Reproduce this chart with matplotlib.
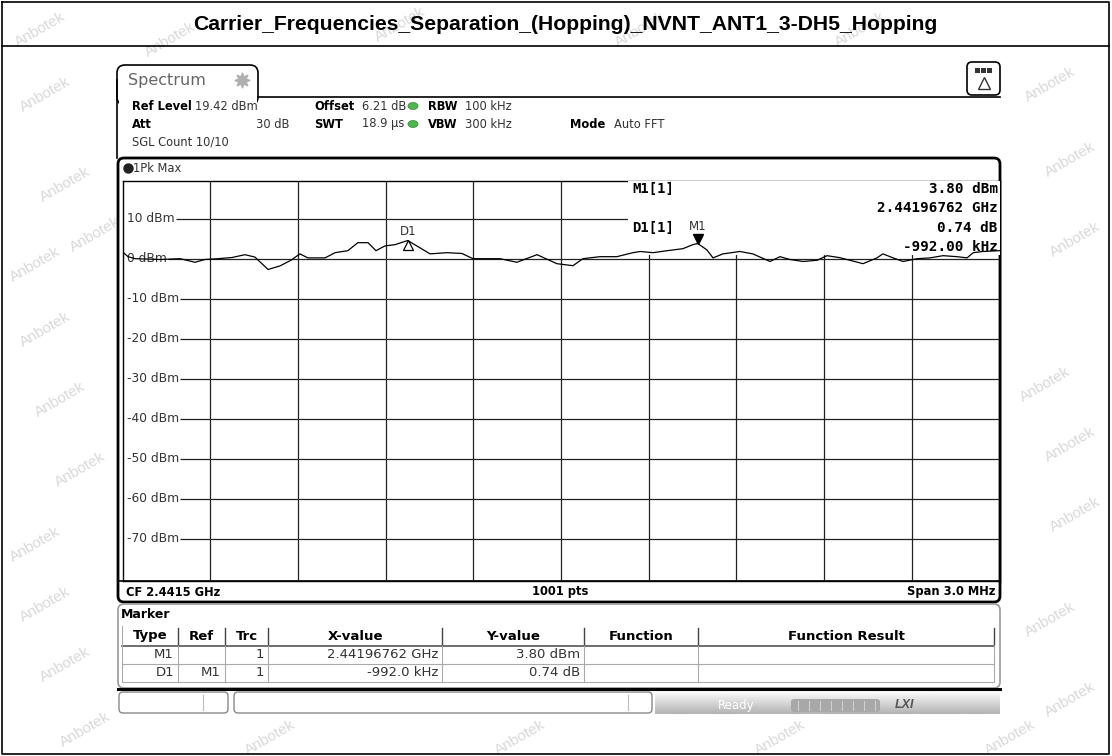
import numpy as np
import matplotlib.pyplot as plt
from matplotlib.patches import FancyBboxPatch, Rectangle, Ellipse

# trace: frequency offset from 2440 MHz (MHz) and level (dBm)
freq_off = [0.000, 0.019, 0.043, 0.128, 0.197, 0.248, 0.282, 0.327, 0.375, 0.419,
            0.453, 0.498, 0.539, 0.576, 0.607, 0.634, 0.693, 0.727, 0.771, 0.805,
            0.840, 0.867, 0.898, 0.932, 0.9756, 1.018, 1.052, 1.110, 1.161, 1.199,
            1.291, 1.349, 1.418, 1.486, 1.541, 1.575, 1.633, 1.691, 1.746, 1.771,
            1.815, 1.863, 1.917, 1.951, 1.9676, 1.999, 2.020, 2.054, 2.112, 2.156,
            2.215, 2.249, 2.283, 2.328, 2.376, 2.410, 2.454, 2.533, 2.581, 2.601,
            2.636, 2.670, 2.718, 2.762, 2.807, 2.855, 2.889, 2.910, 2.944, 3.000]
level = [1.7, 0.5, 0.0, -0.2, 0.0, -0.9, -0.2, 0.0, 0.3, 1.0,
         0.4, -2.7, -1.8, -0.4, 1.2, 0.2, 0.2, 1.5, 2.0, 4.0,
         4.0, 2.0, 3.2, 3.5, 4.54, 2.7, 1.2, 1.5, 1.3, 0.0,
         0.0, -0.9, 1.0, -1.25, -1.75, 0.0, 0.5, 0.5, 1.5, 1.8,
         1.5, 2.0, 2.5, 3.5, 3.8, 2.2, 0.2, 1.2, 1.8, 1.2,
         -0.7, 0.5, -0.2, -0.7, -0.4, 0.75, 0.25, -1.25, 0.2, 1.2,
         0.2, -0.7, 0.0, 0.2, 0.75, 0.5, 0.2, 1.5, 1.8, 2.0]

f_start = 2440.0
span = 3.0
ref_level = 19.42
y_ticks = [10, 0, -10, -20, -30, -40, -50, -60, -70]

m1_f, m1_lvl = 2441.96762, 3.80
d1_f, d1_lvl = 2440.97562, 4.54

title = "Carrier_Frequencies_Separation_(Hopping)_NVNT_ANT1_3-DH5_Hopping"

table_cols = ["Type", "Ref", "Trc", "X-value", "Y-value", "Function", "Function Result"]
table_rows = [["M1", "", "1", "2.44196762 GHz", "3.80 dBm", "", ""],
              ["D1", "M1", "1", "-992.0 kHz", "0.74 dB", "", ""]]

W, H = 1112, 756
fig = plt.figure(figsize=(W / 100, H / 100), dpi=100)
ov = fig.add_axes([0, 0, 1, 1])
ov.set_xlim(0, W)
ov.set_ylim(H, 0)
ov.axis("off")

narrow = ["Liberation Sans Narrow", "DejaVu Sans"]
scr = "DejaVu Sans"

# watermarks
wm = [(45, 95), (65, 185), (95, 235), (35, 265), (45, 330), (60, 400), (80, 470),
      (35, 545), (45, 605), (65, 665), (85, 730), (170, 40), (400, 25), (640, 30),
      (860, 30), (1050, 85), (1070, 160), (1075, 240), (1045, 385), (1070, 445),
      (1075, 515), (1050, 620), (1070, 700), (270, 738), (520, 738), (780, 738),
      (1010, 738), (40, 30)]
for x, y in wm:
    ov.text(x, y, "Anbotek", rotation=30, fontsize=11, color="#d9d9d9",
            ha="center", va="center", family="Liberation Sans", zorder=0)

# outer frame + title
ov.plot([2, 1109, 1109, 2, 2], [2, 2, 754, 754, 2], color="black", lw=1.2, zorder=1)
ov.plot([2, 1109], [46, 46], color="black", lw=1.2, zorder=1)
ov.text(565, 25, title, ha="center", va="center", fontsize=15.2, fontweight="bold",
        family="Liberation Sans", zorder=5)

# Spectrum tab
ov.add_patch(FancyBboxPatch((117, 65), 141, 40, boxstyle="round,pad=0,rounding_size=8",
                            fc="white", ec="black", lw=1.2, zorder=2))
ov.add_patch(Rectangle((118.5, 97.5), 138, 10, fc="white", ec="none", zorder=2))
ov.plot([258, 1000], [97, 97], color="black", lw=1.2, zorder=2)
ov.plot([117, 117], [80, 158], color="black", lw=1.2, zorder=2)
ov.text(128, 81, "Spectrum", fontsize=11.5, color="#666666", va="center", family=scr, zorder=3)
ov.plot(242, 80, marker=(8, 1, 0), ms=11, color="#b0b0b0", zorder=3)

# icon top right
ov.add_patch(FancyBboxPatch((967, 62), 33, 33, boxstyle="round,pad=0,rounding_size=5",
                            fc="white", ec="black", lw=1.2, zorder=2))
for k in range(3):
    ov.add_patch(Rectangle((975 + k * 6, 68), 5, 5, fc="#333333", ec="none", zorder=3))
ov.plot(983.5, 83, marker="^", ms=8, mfc="white", mec="#333333", mew=1, zorder=3)

# header texts
hdr_fs = 8.3
row_y = [106, 124, 142]
ov.text(132, row_y[0], "Ref Level", fontsize=hdr_fs, fontweight="bold", va="center", family=scr)
ov.text(195, row_y[0], "19.42 dBm", fontsize=hdr_fs, va="center", family=scr, color="#333333")
ov.text(314, row_y[0], "Offset", fontsize=hdr_fs, fontweight="bold", va="center", family=scr)
ov.text(362, row_y[0], "6.21 dB", fontsize=hdr_fs, va="center", family=scr, color="#333333")
ov.text(428, row_y[0], "RBW", fontsize=hdr_fs, fontweight="bold", va="center", family=scr)
ov.text(465, row_y[0], "100 kHz", fontsize=hdr_fs, va="center", family=scr, color="#333333")
ov.text(132, row_y[1], "Att", fontsize=hdr_fs, fontweight="bold", va="center", family=scr)
ov.text(290, row_y[1], "30 dB", fontsize=hdr_fs, va="center", ha="right", family=scr, color="#333333")
ov.text(314, row_y[1], "SWT", fontsize=hdr_fs, fontweight="bold", va="center", family=scr)
ov.text(362, row_y[1], "18.9 µs", fontsize=hdr_fs, va="center", family=scr, color="#333333")
ov.text(428, row_y[1], "VBW", fontsize=hdr_fs, fontweight="bold", va="center", family=scr)
ov.text(465, row_y[1], "300 kHz", fontsize=hdr_fs, va="center", family=scr, color="#333333")
ov.text(570, row_y[1], "Mode", fontsize=hdr_fs, fontweight="bold", va="center", family=scr)
ov.text(614, row_y[1], "Auto FFT", fontsize=hdr_fs, va="center", family=scr, color="#333333")
ov.text(132, row_y[2], "SGL Count 10/10", fontsize=hdr_fs, va="center", family=scr, color="#333333")
for yy in row_y[:2]:
    ov.add_patch(Ellipse((413, yy), 10, 7, fc="#4cb84c", ec="#2e8b2e", lw=0.5, zorder=3))

# plot frame
ov.add_patch(FancyBboxPatch((118, 158), 882, 444, boxstyle="round,pad=0,rounding_size=6",
                            fc="white", ec="black", lw=2, zorder=1))
ov.plot(128, 168, "o", ms=6.5, color="#222222", zorder=3)
ov.text(133, 168, "1Pk Max", fontsize=8.3, va="center", family=scr, color="#333333", zorder=3)
ov.plot([118, 1000], [580.5, 580.5], color="black", lw=1.2, zorder=2)
ov.text(126, 592, "CF 2.4415 GHz", fontsize=8.3, fontweight="bold", va="center", family=scr, zorder=3)
ov.text(560, 592, "1001 pts", fontsize=8.3, fontweight="bold", va="center", ha="center", family=scr, zorder=3)
ov.text(995, 592, "Span 3.0 MHz", fontsize=8.3, fontweight="bold", va="center", ha="right", family=scr, zorder=3)

# marker table panel
ov.add_patch(FancyBboxPatch((118, 604), 882, 84, boxstyle="round,pad=0,rounding_size=6",
                            fc="white", ec="#999999", lw=1.2, zorder=1))
ov.plot([118, 1000], [688.5, 688.5], color="black", lw=2.2, zorder=2)
ov.text(121, 615, "Marker", fontsize=9, fontweight="bold", va="center", family=narrow, zorder=3)
col_x = [122, 178, 225, 268, 442, 584, 698, 994]
row_top = [626, 646, 664, 682]
ov.plot([122, 994], [645.5, 645.5], color="#555555", lw=1.2, zorder=2)
for yy in row_top[2:]:
    ov.plot([122, 994], [yy, yy], color="#aaaaaa", lw=0.8, zorder=2)
ov.plot([122, 122], [626, 682], color="#aaaaaa", lw=0.8, zorder=2)
for cx in col_x[1:]:
    ov.plot([cx, cx], [628, 644], color="#444444", lw=1, zorder=2)
    ov.plot([cx, cx], [646, 682], color="#aaaaaa", lw=0.8, zorder=2)
for i, name in enumerate(table_cols):
    ov.text((col_x[i] + col_x[i + 1]) / 2, 636, name, fontsize=9.5, fontweight="bold",
            ha="center", va="center", family=narrow, zorder=3)
for r, row in enumerate(table_rows):
    yc = (row_top[r + 1] + row_top[r + 2]) / 2
    for i, val in enumerate(row):
        ov.text(col_x[i + 1] - 4, yc, val, fontsize=9.5, ha="right", va="center",
                family=narrow, color="#333333", zorder=3)

# status bar
ov.add_patch(FancyBboxPatch((119, 692), 109, 21, boxstyle="round,pad=0,rounding_size=4",
                            fc="white", ec="#888888", lw=1, zorder=2))
ov.add_patch(FancyBboxPatch((234, 692), 418, 21, boxstyle="round,pad=0,rounding_size=4",
                            fc="white", ec="#888888", lw=1, zorder=2))
ov.plot([203, 203], [695, 710], color="#bbbbbb", lw=0.8, zorder=3)
ov.plot([628, 628], [695, 710], color="#bbbbbb", lw=0.8, zorder=3)
grad = np.linspace(1.0, 0.7, 40).reshape(-1, 1)
ov.imshow(grad, extent=(655, 1000, 714, 690), cmap="gray", vmin=0, vmax=1,
          aspect="auto", zorder=1)
ov.set_xlim(0, W)
ov.set_ylim(H, 0)
ov.text(718, 705, "Ready", fontsize=8.5, color="white", va="center", family=narrow, zorder=3)
ov.add_patch(FancyBboxPatch((791, 699), 89, 13, boxstyle="round,pad=0,rounding_size=3",
                            fc="#a8a8a8", ec="none", zorder=3))
for k in range(8):
    ov.plot([798 + k * 11, 798 + k * 11], [701, 710], color="#d0d0d0", lw=0.8, zorder=4)
ov.text(905, 705, "LXI", fontsize=9, fontweight="bold", style="italic", color="#555555",
        ha="center", va="center", family="Liberation Sans", zorder=3)

# spectrum axes
L, T, R, B = 122.5, 181.0, 999.5, 581.0
ax = fig.add_axes([L / W, 1 - B / H, (R - L) / W, (B - T) / H], zorder=2)
ax.patch.set_alpha(0)
f_end = f_start + span
ax.set_xlim(f_start, f_end)
ax.set_ylim(ref_level - 100, ref_level)
for s in ax.spines.values():
    s.set_color("black")
    s.set_linewidth(1.0)
ax.set_xticks([f_start + 0.3 * k for k in range(1, 10)])
ax.set_yticks([])
ax.tick_params(length=0, labelbottom=False, labelleft=False)
ax.grid(axis="x", color="#222222", lw=0.9, zorder=1)

# level labels, grid line starts where the label ends
labels = []
for yv in y_ticks:
    labels.append(ax.text(f_start + 0.016, yv, f"{yv} dBm", fontsize=8.8, color="#333333",
                          va="center", family=scr, zorder=2))
fig.canvas.draw()
rend = fig.canvas.get_renderer()
inv = ax.transData.inverted()
for yv, t in zip(y_ticks, labels):
    bb = t.get_window_extent(rend)
    x_end = inv.transform((bb.x1 + 1, 0))[0]
    ax.hlines(yv, x_end, f_end, color="#222222", lw=0.9, zorder=1)

# marker info box
box_h = (255 - T) / (B - T)
ax.add_patch(Rectangle(((628 - L) / (R - L), 1 - box_h), 1, box_h,
                       transform=ax.transAxes, fc="white", ec="none", zorder=3))
mono = "DejaVu Sans Mono"
info = [("M1[1]", "3.80 dBm", 189), ("", "2.44196762 GHz", 208),
        ("D1[1]", "0.74 dB", 228), ("", "-992.00 kHz", 247)]
for lab, val, yy in info:
    fy = 1 - (yy - T) / (B - T)
    if lab:
        ax.text((632 - L) / (R - L), fy, lab, transform=ax.transAxes, fontsize=10,
                fontweight="bold", family=mono, va="center", zorder=4)
    ax.text(0.998, fy, val, transform=ax.transAxes, fontsize=10.3, fontweight="bold",
            family=mono, va="center", ha="right", zorder=4)

# trace
ax.plot([f_start + v for v in freq_off], level, color="black", lw=0.9, zorder=5)

# markers
ax.plot(m1_f, m1_lvl + 1.1, marker="v", ms=7, color="black", zorder=6)
ax.text(m1_f, m1_lvl + 4.2, "M1", fontsize=8.5, ha="center", va="center",
        family=scr, color="#333333", zorder=6)
ax.plot(d1_f, d1_lvl - 1.0, marker="^", ms=7, mfc="none", mec="black", mew=0.9, zorder=6)
ax.text(d1_f, d1_lvl + 2.3, "D1", fontsize=8.5, ha="center", va="center",
        family=scr, color="#333333", zorder=6)

fig.savefig("out.png", dpi=100)
